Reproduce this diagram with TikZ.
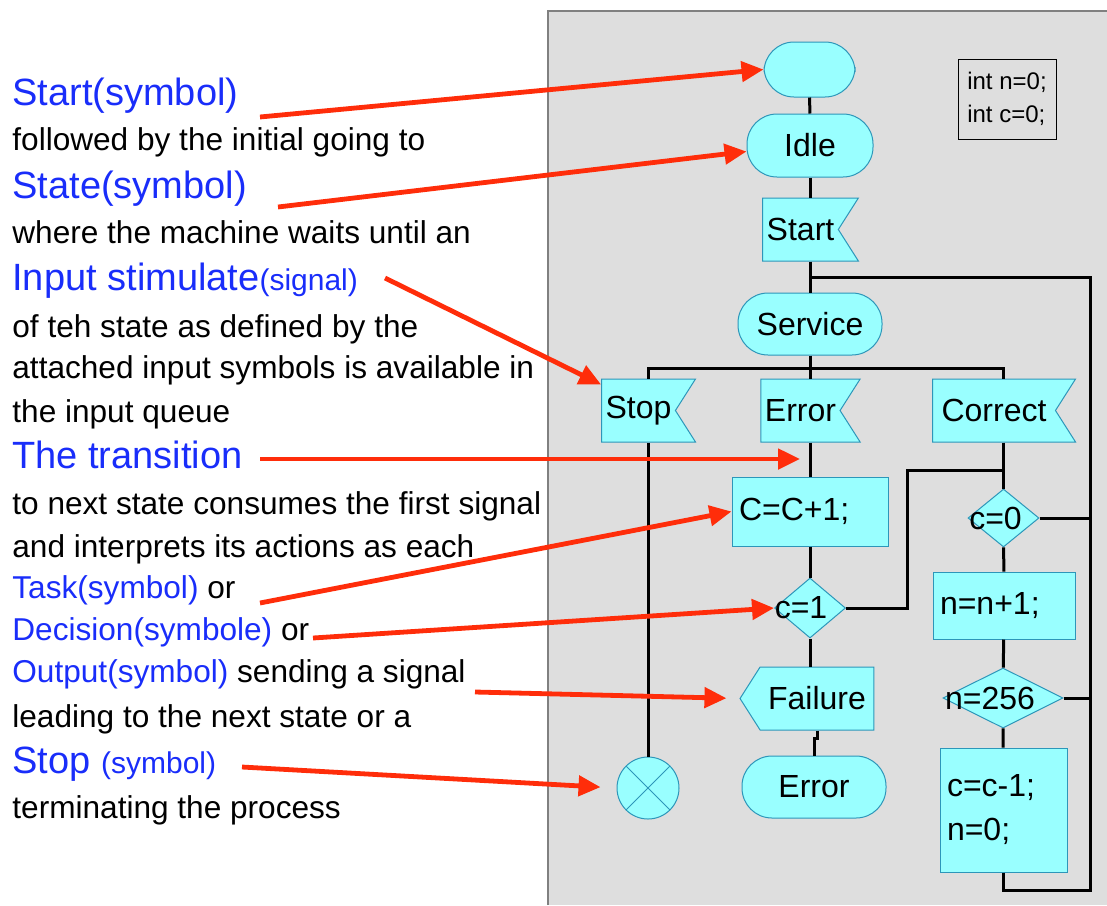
\documentclass[tikz,border=0pt]{standalone}
\usepackage{fontspec}
\setmainfont{Liberation Sans}
\usepackage{tikz}
\usetikzlibrary{positioning, calc, shapes.geometric, shapes.symbols, arrows.meta, backgrounds}
\definecolor{PanelGray}{RGB}{222, 222, 222}
\definecolor{PanelBorder}{RGB}{128, 128, 128}
\definecolor{SdlCyan}{RGB}{153, 255, 255}
\definecolor{SdlBorder}{RGB}{45, 150, 185}
\definecolor{NoteBlue}{RGB}{25, 45, 250}
\definecolor{PointerRed}{RGB}{255, 45, 10}

\begin{document}
\begin{tikzpicture}[
    x=0.5pt, y=-0.5pt,
    font=\fontsize{16}{19}\selectfont,
    notestyle/.style={anchor=base west, inner sep=0pt, font=\fontsize{15.8}{19}\selectfont},
    bigblue/.style={notestyle, text=NoteBlue, font=\fontsize{19}{22}\selectfont},
    termstyle/.style={rectangle, rounded corners=15pt, draw=SdlBorder, fill=SdlCyan, line width=0.5pt, inner sep=0pt},
    inputstyle/.style={signal, signal to=nowhere, signal from=east, signal pointer angle=115, draw=SdlBorder, fill=SdlCyan, line width=0.5pt, inner xsep=2pt, minimum height=31.5pt},
    outputstyle/.style={signal, signal to=west, signal pointer angle=115, draw=SdlBorder, fill=SdlCyan, line width=0.5pt, inner xsep=4pt, minimum height=31.5pt},
    taskstyle/.style={rectangle, draw=SdlBorder, fill=SdlCyan, line width=0.5pt, align=left, inner xsep=3.5pt},
    decisionstyle/.style={diamond, draw=SdlBorder, fill=SdlCyan, line width=0.5pt, inner sep=0pt},
    stopstyle/.style={circle, draw=SdlBorder, fill=SdlCyan, line width=0.5pt, minimum size=31pt,
        path picture={\draw[SdlBorder, line width=0.5pt] (path picture bounding box.north west) -- (path picture bounding box.south east)
            (path picture bounding box.north east) -- (path picture bounding box.south west);}},
    flow/.style={line width=1.5pt, black},
    pointer/.style={-{Triangle[length=11pt, width=10pt]}, line width=2.4pt, PointerRed}
]
    \useasboundingbox (0,0) rectangle (1107,905);

    % Panel
    \fill[PanelGray] (548,11) rectangle (1107,905);
    \draw[PanelBorder, line width=1pt] (548,905) |- (1107,11);

    % Notes on the left
    \node (tStart) [bigblue] at (12,105) {Start(symbol)};
    \node (tFollow) [notestyle] at (12,150) {followed by the initial going to};
    \node (tState) [bigblue] at (12,198) {State(symbol)};
    \node (tWhere) [notestyle] at (12,243) {where the machine waits until an};
    \node (tInput) [bigblue] at (12,290) {Input stimulate{\fontsize{15}{18}\selectfont(signal)}};
    \node (tOfteh) [notestyle] at (12,337) {of teh state as defined by the};
    \node (tAttached) [notestyle] at (12,378) {attached input symbols is available in};
    \node (tQueue) [notestyle] at (12,422) {the input queue};
    \node (tTrans) [bigblue] at (12,468) {The transition};
    \node (tNext) [notestyle] at (12,514) {to next state consumes the first signal};
    \node (tActions) [notestyle] at (12,557) {and interprets its actions as each};
    \node (tTask) [notestyle] at (12,598) {\textcolor{NoteBlue}{Task(symbol)} or};
    \node (tDecision) [notestyle] at (12,640) {\textcolor{NoteBlue}{Decision(symbole)} or};
    \node (tOutput) [notestyle] at (12,682) {\textcolor{NoteBlue}{Output(symbol)} sending a signal};
    \node (tLeading) [notestyle] at (12,727) {leading to the next state or a};
    \node (tStop) [bigblue] at (12,773) {Stop {\fontsize{15}{18}\selectfont(symbol)}};
    \node (tTerm) [notestyle] at (12,818) {terminating the process};

    % Main column
    \node (startterm) [termstyle, minimum width=45.5pt, minimum height=27.5pt] at (809.5,69.5) {};
    \node (idle) [termstyle, minimum width=63pt, minimum height=31.5pt] at (810,145.5) {Idle};
    \node (startsig) [inputstyle] at (800.5,229.5) {Start};
    \node (service) [termstyle, minimum width=72pt, minimum height=31pt] at (810,324) {Service};
    \node (vars) [rectangle, draw=black, line width=0.5pt, align=left, inner sep=2pt, font=\fontsize{12}{16.5}\selectfont, minimum width=49pt, minimum height=40pt] at (1007,99) {int n=0;\\int c=0;};

    % Input signals
    \node (stopsig) [inputstyle] at (638.5,410.5) {Stop};
    \node (errsig) [inputstyle] at (800.5,410.5) {Error};
    \node (correctsig) [inputstyle, inner xsep=4.5pt] at (994,410.5) {Correct};

    % Error branch
    \node (inc) [taskstyle, text width=71pt, minimum height=34.5pt] at (810,511.5) {C=C+1;};
    \node (c1) [decisionstyle, minimum width=35.5pt, minimum height=30pt, label={[xshift=-4.5pt]center:c=1}] at (810,608) {};
    \node (failure) [outputstyle] at (817,698.5) {Failure};
    \node (errend) [termstyle, minimum width=72pt, minimum height=31pt] at (814,787) {Error};

    % Stop branch
    \node (stopend) [stopstyle] at (648,788) {};

    % Correct branch
    \node (c0) [decisionstyle, minimum width=35.5pt, minimum height=29pt, label={[xshift=-4pt]center:c=0}] at (1003.5,518) {};
    \node (incn) [taskstyle, text width=64pt, minimum height=33.5pt] at (1004,605.5) {n=n+1;};
    \node (n256) [decisionstyle, minimum width=60pt, minimum height=30pt, label={[xshift=-6.5pt]center:n=256}] at (1003,698) {};
    \node (reset) [taskstyle, text width=56.5pt, minimum height=62pt] at (1003.5,810) {c=c-1;\\[3pt]n=0;};

    % Helper points
    \coordinate (fork) at (809,368);
    \coordinate (railtop) at (1090,277);
    \coordinate (railbot) at (1090,890);
    \coordinate (cjoin) at (907,470);

    % Connections
    \draw [flow] (startterm) -- (idle);
    \draw [flow] (idle.south) -- ([xshift=4.75pt]startsig.north);
    \draw [flow] ([xshift=4.75pt]startsig.south) -- (service.north);
    \draw [flow] (service.south) -- ([xshift=4.75pt]errsig.north);
    \draw [flow] ([xshift=4.75pt]stopsig.north) |- (fork) -| ([xshift=4.75pt]correctsig.north);
    \draw [flow] ([xshift=4.75pt]stopsig.south) -- (stopend.north);
    \draw [flow] ([xshift=4.75pt]errsig.south) -- (inc.north);
    \draw [flow] (inc) -- (c1);
    \draw [flow] (c1) -- (failure.north -| c1.south);
    \draw [flow] (failure.south) -- ++(0,8) -| (errend.north);
    \draw [flow] (c1.east) -| (cjoin) -- (cjoin -| c0.north);
    \draw [flow] ([xshift=4.75pt]correctsig.south) -- (c0.north);
    \draw [flow] (c0) -- (incn);
    \draw [flow] (incn) -- (n256);
    \draw [flow] (n256) -- (reset);
    \draw [flow] (c0.east) -- (c0.east -| railtop);
    \draw [flow] (n256.east) -- (n256.east -| railtop);
    \draw [flow] (reset.south) |- (railbot) -- (railtop) -- (railtop -| service.north);

    % Pointers from the notes
    \coordinate (pStart) at (260,117);
    \coordinate (pState) at (278,207);
    \coordinate (pInput) at (385,278);
    \coordinate (pTrans) at (260,459);
    \coordinate (pTransEnd) at (800,459);
    \coordinate (pTask) at (260,603);
    \coordinate (pDecision) at (313,638);
    \coordinate (pOutput) at (475,692);
    \coordinate (pStop) at (242,767);
    \draw [pointer] (pStart) -- (startterm.west);
    \draw [pointer] (pState) -- ([yshift=-3pt]idle.west);
    \draw [pointer] (pInput) -- ([yshift=-3pt]stopsig.north west);
    \draw [pointer] (pTrans) -- (pTransEnd);
    \draw [pointer] (pTask) -- (inc.west);
    \draw [pointer] (pDecision) -- (c1.west);
    \draw [pointer, shorten >=6.5pt] (pOutput) -- (failure.west);
    \draw [pointer, shorten >=8pt] (pStop) -- (stopend.west);

\end{tikzpicture}
\end{document}
